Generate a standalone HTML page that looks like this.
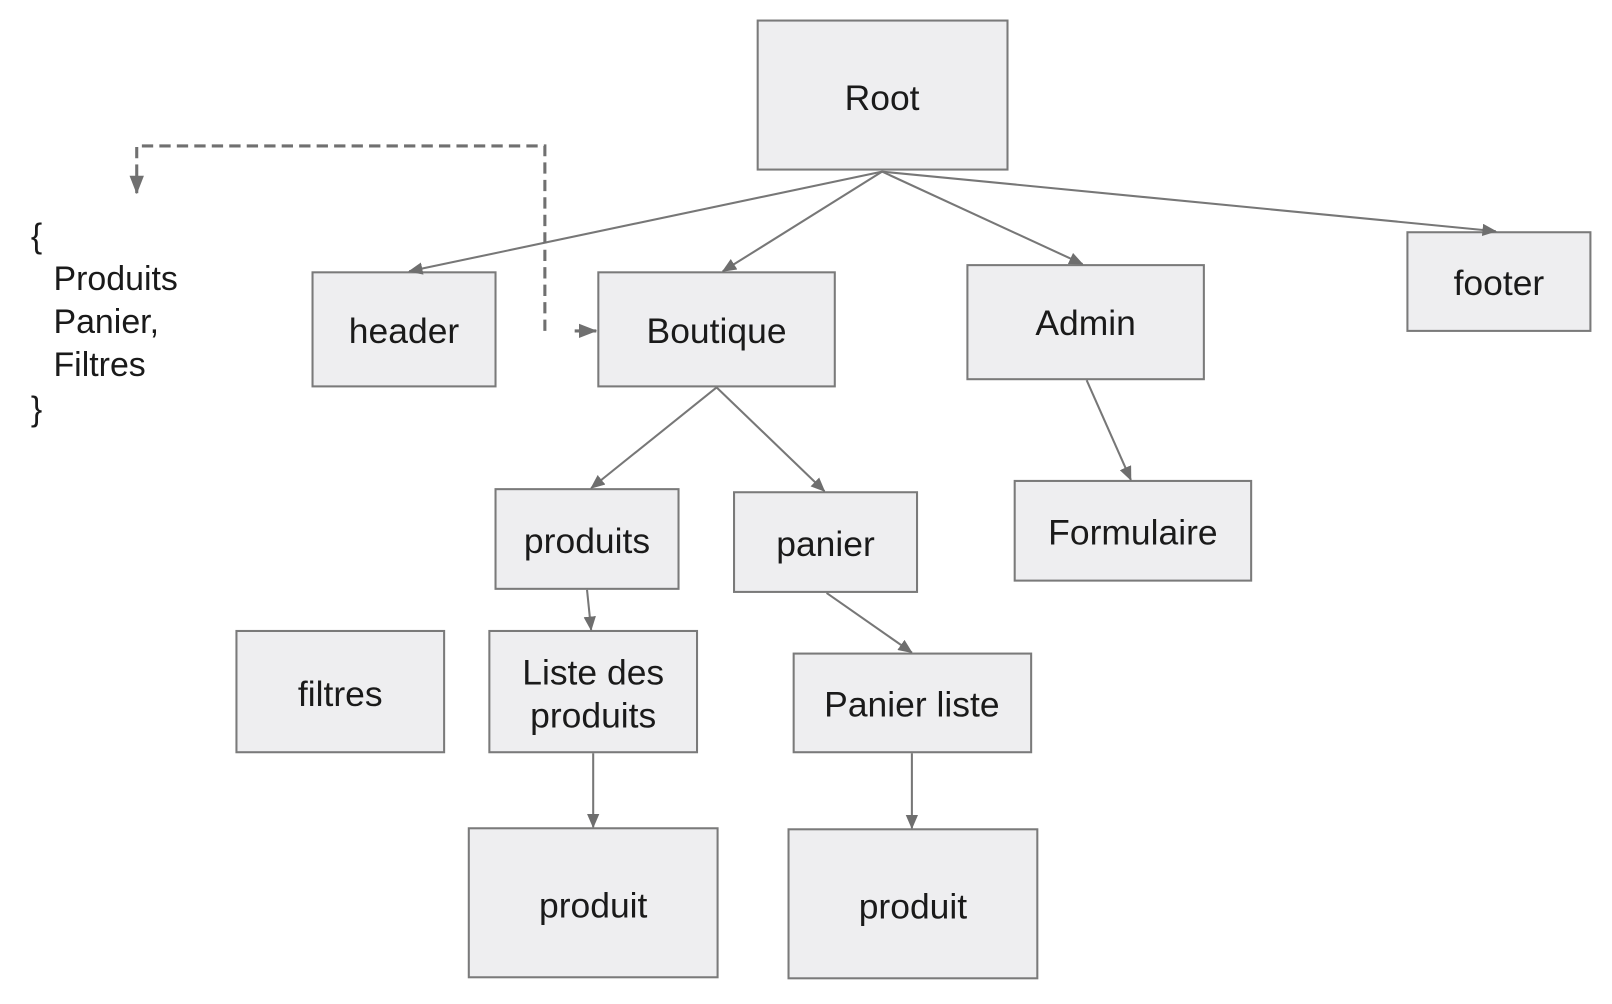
<!DOCTYPE html>
<html><head><meta charset="utf-8"><style>
html,body{margin:0;padding:0;background:#fff;}
svg{display:block;}
text{font-family:"Liberation Sans",Arial,sans-serif;fill:#1a1a1a;}
</style></head><body>
<svg width="1612" height="1004" viewBox="0 0 1568 977" preserveAspectRatio="none" xmlns="http://www.w3.org/2000/svg">
<defs>
<marker id="a" markerWidth="14" markerHeight="12" refX="13" refY="6" orient="auto" markerUnits="userSpaceOnUse" viewBox="0 0 14 12">
<path d="M0,0 L14,6 L0,12 z" fill="#6e6e6e"/></marker>
<marker id="b" markerWidth="18" markerHeight="16" refX="17" refY="8" orient="auto" markerUnits="userSpaceOnUse" viewBox="0 0 18 16">
<path d="M0,1 L18,8 L0,15 z" fill="#707070"/></marker>
</defs>
<g fill="#eeeef0" stroke="#7a7a7a" stroke-width="2">
<rect x="737" y="20" width="243" height="145"/>
<rect x="304" y="265" width="178" height="111"/>
<rect x="582" y="265" width="230" height="111"/>
<rect x="941" y="258" width="230" height="111"/>
<rect x="1369" y="226" width="178" height="96"/>
<rect x="482" y="476" width="178" height="97"/>
<rect x="714" y="479" width="178" height="97"/>
<rect x="987" y="468" width="230" height="97"/>
<rect x="230" y="614" width="202" height="118"/>
<rect x="476" y="614" width="202" height="118"/>
<rect x="772" y="636" width="231" height="96"/>
<rect x="456" y="806" width="242" height="145"/>
<rect x="767" y="807" width="242" height="145"/>
</g>
<g stroke="#777" stroke-width="2" fill="none" marker-end="url(#a)">
<line x1="858" y1="167" x2="398" y2="264"/>
<line x1="858" y1="167" x2="703" y2="264"/>
<line x1="858" y1="167" x2="1053" y2="257"/>
<line x1="858" y1="167" x2="1455" y2="225"/>
<line x1="697" y1="377" x2="575" y2="475"/>
<line x1="697" y1="377" x2="802" y2="478"/>
<line x1="1057" y1="370" x2="1100" y2="467"/>
<line x1="571" y1="574" x2="575" y2="613"/>
<line x1="804" y1="577" x2="887" y2="635"/>
<line x1="577" y1="733" x2="577" y2="805"/>
<line x1="887" y1="733" x2="887" y2="806"/>
</g>
<g stroke="#707070" stroke-width="3" fill="none" stroke-dasharray="11,6">
<polyline points="530,322 530,142 133,142 133,160"/>
</g>
<line x1="133" y1="160" x2="133" y2="188" stroke="#707070" stroke-width="3" marker-end="url(#b)"/>
<line x1="559" y1="322" x2="580" y2="322" stroke="#707070" stroke-width="3" marker-end="url(#b)"/>
<g font-size="34.5" text-anchor="middle">
<text x="858" y="107">Root</text>
<text x="393" y="334">header</text>
<text x="697" y="334">Boutique</text>
<text x="1056" y="326">Admin</text>
<text x="1458" y="287">footer</text>
<text x="571" y="538">produits</text>
<text x="803" y="541">panier</text>
<text x="1102" y="530">Formulaire</text>
<text x="331" y="687">filtres</text>
<text x="577" y="666">Liste des</text>
<text x="577" y="708">produits</text>
<text x="887" y="697">Panier liste</text>
<text x="577" y="893">produit</text>
<text x="888" y="894">produit</text>
</g>
<g font-size="33">
<text x="30" y="241">{</text>
<text x="52" y="282">Produits</text>
<text x="52" y="324">Panier,</text>
<text x="52" y="366">Filtres</text>
<text x="30" y="409">}</text>
</g>
</svg>
</body></html>
